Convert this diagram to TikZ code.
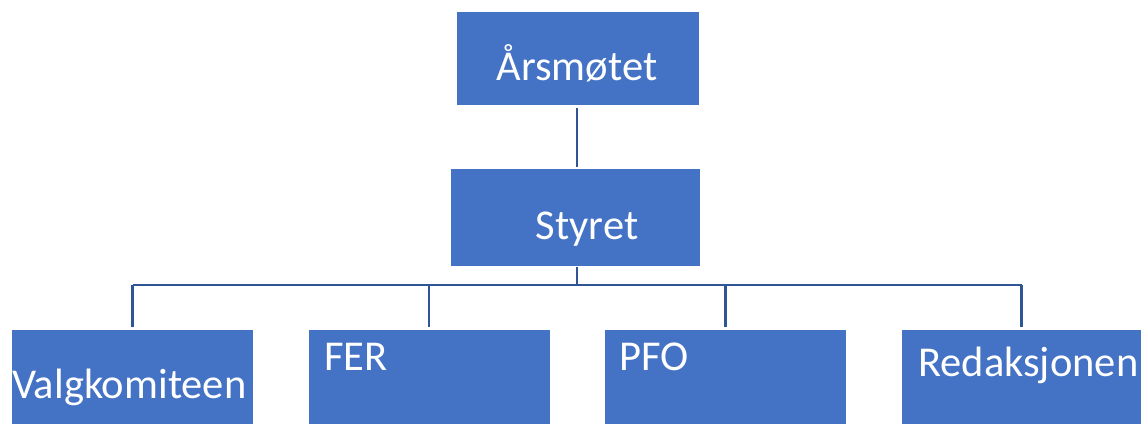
\documentclass[tikz,border=0pt]{standalone}
\usepackage{fontspec}
\setmainfont{Carlito}
\definecolor{boxblue}{HTML}{4472C4}
\definecolor{lineblue}{HTML}{2F5597}
\tikzset{
  unit/.style={rectangle, fill=boxblue, draw=none, inner sep=0pt,
    minimum width=241pt, minimum height=94pt},
  label text/.style={text=white, inner sep=0pt,
    font=\fontsize{42.5}{51}\selectfont},
  link/.style={draw=lineblue, line width=2.8pt},
}
\begin{document}
\begin{tikzpicture}[x=1pt,y=-1pt]
      \useasboundingbox (0,0) rectangle (1141,428);
      % boxes
      \draw
        (578,58.5) node[unit, minimum width=242pt, minimum height=93pt] (arsmotet){}
        (575.5,217.5) node[unit, minimum width=249pt, minimum height=97pt] (styret){}
        (132.5,377) node[unit] (valg){}
        (429,377) node[unit] (fer){}
        (725.5,377) node[unit] (pfo){}
        (1021.5,377) node[unit, minimum width=239pt] (red){};
      % texts
      \draw
        (577,81) node[label text, anchor=base] (tarsmotet){Årsmøtet}
        (587,239) node[label text, anchor=base] (tstyret){Styret}
        (12,398) node[label text, anchor=base west] (tvalg){Valgkomiteen}
        (324,370) node[label text, anchor=base west] (tfer){FER}
        (619,370) node[label text, anchor=base west] (tpfo){PFO}
        (918,376) node[label text, anchor=base west] (tred){Redaksjonen};
      \coordinate (bus) at (577,285);
      \begin{scope}[link]
        \draw[shorten <=3pt, shorten >=2pt] (arsmotet.south -| bus) to (styret.north -| bus);
        \draw[shorten <=1pt] (styret.south -| bus) to (bus);
        \draw (valg.north |- bus) to (red.north |- bus);
        \draw[shorten >=3pt] (valg.north |- bus) to (valg.north);
        \draw[shorten >=3pt] (fer.north |- bus) to (fer.north);
        \draw[shorten >=3pt] (pfo.north |- bus) to (pfo.north);
        \draw[shorten >=3pt] (red.north |- bus) to (red.north);
      \end{scope}
    \end{tikzpicture}
\end{document}
